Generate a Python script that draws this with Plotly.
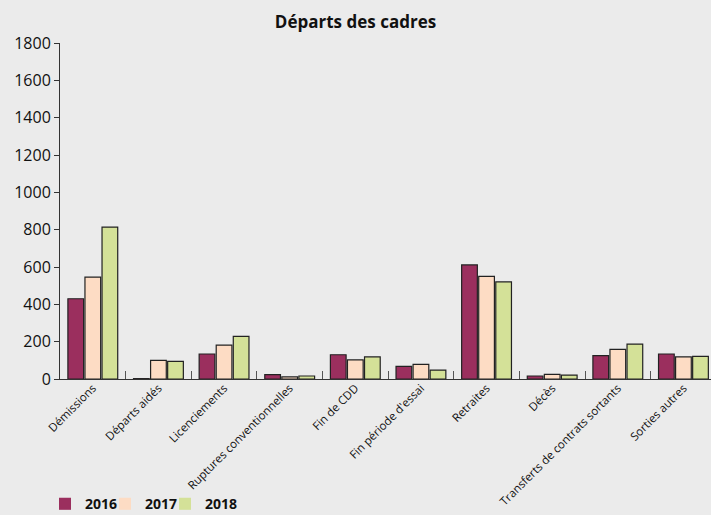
import plotly.graph_objects as go

categories = ["Démissions", "Départs aidés", "Licenciements", "Ruptures conventionnelles",
              "Fin de CDD", "Fin période d'essai", "Retraites", "Décès",
              "Transferts de contrats sortants", "Sorties autres"]
v2016 = [430, 2, 134, 23, 130, 68, 611, 16, 125, 134]
v2017 = [546, 100, 182, 11, 102, 78, 550, 25, 159, 118]
v2018 = [814, 94, 228, 16, 118, 48, 520, 21, 187, 121]
years = ["2016", "2017", "2018"]
colors = ["#9b2f5e", "#fddcc4", "#d4e198"]

fig = go.Figure()
for name, vals, col in zip(years, [v2016, v2017, v2018], colors):
    fig.add_trace(go.Bar(x=categories, y=vals, name=name, showlegend=False,
                         marker=dict(color=col, line=dict(color="#222222", width=1.2))))

legend_names = ["legend", "legend2", "legend3"]
legend_x = [45 / 711, 105 / 711, 165 / 711]
for name, col, lg in zip(years, colors, legend_names):
    fig.add_trace(go.Scatter(x=[None], y=[None], mode="markers", name=name, legend=lg,
                             marker=dict(symbol="square", size=12, color=col, line=dict(width=0))))

leg_common = dict(orientation="h", xanchor="left", xref="container", yref="container",
                  y=0.052, yanchor="top",
                  font=dict(size=14, family="Open Sans, sans-serif", color="#111111", weight="bold"),
                  itemwidth=30, bgcolor="rgba(0,0,0,0)")

fig.update_layout(
    width=711, height=515,
    paper_bgcolor="#ebebeb", plot_bgcolor="#ebebeb",
    font=dict(family="Open Sans, DejaVu Sans, sans-serif", color="#111111"),
    title=dict(text="<b>Départs des cadres</b>", xref="container", x=0.5, xanchor="center",
               yref="container", y=0.957, yanchor="middle",
               font=dict(size=17, family="Open Sans, sans-serif", color="#111111")),
    margin=dict(l=60, r=0, t=43, b=136, autoexpand=False),
    barmode="group", bargap=0.22, bargroupgap=0.08,
    showlegend=True,
    legend=dict(x=legend_x[0], **leg_common),
    legend2=dict(x=legend_x[1], **leg_common),
    legend3=dict(x=legend_x[2], **leg_common),
)
fig.update_yaxes(range=[0, 1800], dtick=200, showgrid=False, zeroline=False, automargin=False,
                 showline=True, linecolor="#333333", linewidth=1,
                 ticks="outside", ticklen=5, tickcolor="#333333",
                 tickfont=dict(size=16, color="#111111"))
fig.update_xaxes(range=[-0.5, 9.42], showgrid=False, showline=True, linecolor="#333333", linewidth=1,
                 automargin=False, ticklabelstandoff=-3,
                 ticks="inside", tickson="boundaries", ticklen=8, tickcolor="#555555",
                 tickangle=-45, tickfont=dict(size=11.5, color="#111111"))

fig.write_html("out.html", config={"displayModeBar": False},
               post_script="document.body.style.margin='0';document.body.style.background='#ebebeb';")
